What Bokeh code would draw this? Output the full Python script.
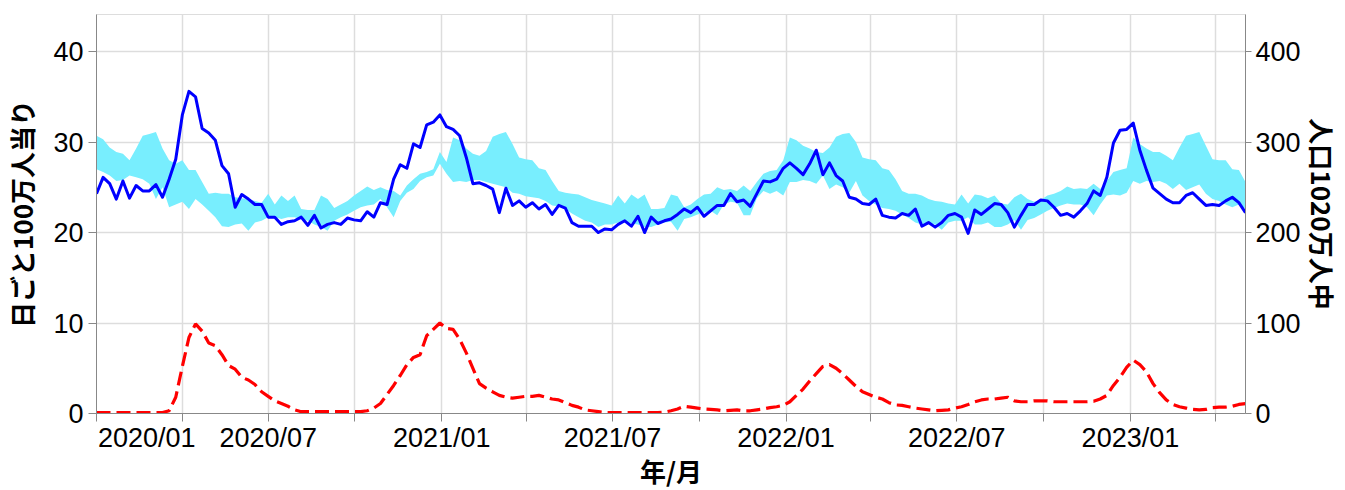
import pandas as pd
from bokeh.plotting import figure
from bokeh.models import LinearAxis, Range1d, FixedTicker, ColumnDataSource
from bokeh.embed import file_html
from bokeh.resources import INLINE

# ---------------- data (weekly, from 2020-01-01) ----------------
first_week = "2020-01-01"

observed = [
    24.3, 26.1, 25.4, 23.7, 25.7, 23.8, 25.2, 24.6, 24.6, 25.3,
    23.9, 25.9, 28.1, 33.0, 35.6, 35.0, 31.5, 31.0, 30.2, 27.4,
    26.5, 22.8, 24.2, 23.7, 23.1, 23.1, 21.7, 21.7, 20.9, 21.2,
    21.3, 21.7, 20.8, 21.9, 20.5, 20.9, 21.1, 20.9, 21.6, 21.4,
    21.3, 22.3, 21.7, 23.3, 23.1, 25.9, 27.5, 27.1, 29.8, 29.4,
    31.9, 32.2, 33.0, 31.7, 31.4, 30.7, 28.3, 25.4, 25.5, 25.2,
    24.8, 22.2, 24.9, 23.0, 23.5, 22.8, 23.3, 22.6, 23.1, 22.0,
    23.0, 22.7, 21.1, 20.7, 20.7, 20.7, 20.0, 20.4, 20.3, 20.9,
    21.3, 20.7, 21.8, 20.0, 21.7, 21.0, 21.3, 21.5, 22.0, 22.6,
    22.2, 22.8, 21.8, 22.4, 23.0, 23.0,
    24.3, 23.4, 23.6, 22.9, 24.3, 25.7, 25.6, 25.9, 27.1, 27.7,
    27.1, 26.4, 27.6, 29.1, 26.4, 27.7, 26.3, 25.7, 23.9, 23.7,
    23.2, 23.1, 23.7, 21.9, 21.7, 21.6, 22.1, 21.9, 22.6, 20.7,
    21.1, 20.6, 21.1, 21.9, 22.1, 21.7, 19.9, 22.5, 22.0, 22.6,
    23.2, 23.1, 22.2, 20.6, 21.9, 23.1, 23.1, 23.6, 23.5, 22.8,
    21.9, 22.1, 21.7, 22.4, 23.2, 24.6, 24.1, 26.1, 29.9, 31.3,
    31.4, 32.1, 29.1, 26.9, 24.9, 24.3, 23.7, 23.3, 23.3, 24.1,
    24.4, 23.7, 23.0, 23.1, 23.0, 23.5, 23.9, 23.3, 22.2,
]

expected_upper = [
    30.7, 30.3, 29.4, 28.9, 28.7, 28.0, 29.3, 30.7, 30.9, 31.1,
    29.3, 28.0, 27.6, 28.0, 26.9, 26.9, 25.6, 24.3, 24.4, 24.3,
    24.3, 23.9, 23.8, 23.7, 23.5, 23.3, 24.3, 23.1, 24.1, 23.5,
    24.1, 22.6, 22.5, 22.5, 24.1, 23.7, 22.7, 23.1, 23.5, 24.1,
    24.6, 25.1, 24.7, 25.0, 24.7, 24.6, 24.1, 25.2, 25.9, 26.5,
    26.7, 27.0, 28.9, 27.8, 30.5, 30.2, 29.3, 28.7, 28.5, 29.0,
    30.6, 30.9, 31.1, 29.8, 28.3, 28.1, 28.0, 27.1, 26.9, 25.7,
    24.6, 24.4, 24.3, 24.2, 23.9, 23.6, 23.4, 23.2, 23.0, 24.1,
    23.2, 24.2, 23.7, 24.2, 22.6, 22.6, 22.7, 24.2, 24.0, 22.8,
    23.1, 23.7, 24.2, 24.3, 25.0, 24.7,
    24.8, 24.6, 25.2, 24.6, 25.6, 26.5, 26.8, 26.9, 28.0, 30.5,
    30.2, 29.6, 29.3, 28.9, 28.8, 29.4, 30.6, 30.9, 31.0, 30.0,
    28.3, 28.1, 28.0, 27.1, 26.9, 25.9, 24.6, 24.3, 24.3, 24.1,
    23.7, 23.5, 23.4, 23.2, 23.1, 24.2, 23.2,
    24.2, 24.1, 23.8, 24.1, 23.2, 23.1, 23.9, 24.3, 23.7, 23.4,
    23.6, 24.1, 24.3, 24.6, 25.1, 24.8, 24.9, 24.8, 25.4, 24.8,
    25.7, 26.7, 26.9, 27.1, 30.5, 29.8, 29.3, 28.9, 28.9, 28.5,
    28.0, 29.4, 30.7, 30.9, 31.1, 29.6, 28.1, 28.0, 28.0, 27.0,
    26.9, 25.6,
]

expected_lower = [
    27.0, 26.7, 26.3, 25.7, 25.8, 26.3, 26.1, 25.9, 25.4, 23.7,
    25.0, 22.8, 23.1, 23.4, 22.6, 23.7, 23.1, 22.4, 21.7, 20.7,
    20.6, 20.9, 21.0, 20.2, 21.1, 21.3, 21.7, 21.7, 21.5, 21.7,
    21.7, 21.5, 21.3, 20.9, 20.6, 20.2, 21.3, 21.7, 22.0, 22.4,
    22.8, 23.0, 23.1, 23.7, 22.8, 21.7, 23.5, 24.4, 24.8, 25.7,
    26.1, 26.3, 27.6, 26.5, 25.6, 25.7, 25.6, 25.8, 25.8, 25.6,
    25.4, 25.2, 25.0, 24.4, 24.3, 24.0, 23.9, 23.8, 23.5, 23.0,
    22.9, 22.6, 22.1, 21.7, 21.3, 21.1, 20.6, 20.9, 20.9, 21.1,
    21.3, 21.0, 20.9, 20.6, 20.6, 20.9, 21.1, 21.2, 20.2, 21.5,
    21.7, 22.0, 22.2, 22.4, 21.9, 23.1,
    23.4, 23.3, 21.9, 21.9, 23.8, 24.6, 24.3, 24.6, 24.1, 25.6,
    25.6, 25.8, 25.7, 25.4, 26.3, 24.8, 25.3, 25.0, 24.4, 25.7,
    24.1, 23.5, 23.1, 22.7, 22.6, 22.4, 22.0, 21.6, 21.1, 20.9,
    21.0, 20.9, 20.3, 21.1, 21.3, 21.3, 21.7, 20.9,
    20.9, 21.1, 20.6, 20.6, 20.9, 21.4, 20.3, 21.4, 21.6, 22.0,
    22.4, 22.7, 23.0, 23.2, 23.1, 23.1, 22.8, 21.9, 23.1, 24.1,
    24.2, 24.1, 24.4, 25.7, 25.4, 25.7, 25.6, 25.7, 25.4, 24.8,
    25.4, 24.7, 25.0, 25.3, 24.3, 23.7, 23.5, 23.1, 22.8, 23.1,
    22.6,
]

covid_deaths = [
    0.1, 0.1, 0.1, 0.1, 0.1, 0.1, 0.1, 0.1, 0.1, 0.1,
    0.1, 0.3, 1.8, 5.2, 8.4, 9.9, 9.1, 7.8, 7.5, 6.5,
    5.3, 4.9, 4.0, 3.7, 3.2, 2.4, 1.9, 1.4, 1.1, 0.8,
    0.4, 0.2, 0.2, 0.2, 0.2, 0.2, 0.2, 0.2, 0.2, 0.2,
    0.2, 0.3, 0.6, 1.1, 2.1, 3.1, 4.2, 5.4, 6.2, 6.5,
    8.6, 9.3, 10.0, 9.4, 9.3, 8.2, 6.7, 5.0, 3.3, 2.8,
    2.4, 2.0, 1.8, 1.7, 1.8, 1.9, 1.9, 2.0, 1.8, 1.6,
    1.5, 1.2, 0.9, 0.7, 0.4, 0.3, 0.2, 0.1, 0.1, 0.1,
    0.1, 0.1, 0.1, 0.1, 0.1, 0.1, 0.15, 0.3, 0.5, 0.8,
    0.7, 0.6, 0.5, 0.45, 0.4, 0.3, 0.35, 0.4, 0.3, 0.3,
    0.4, 0.5, 0.65, 0.75, 0.9, 1.3, 2.0, 2.7, 3.6, 4.4,
    5.2, 5.4, 5.0, 4.4, 3.7, 3.0, 2.4, 2.1, 1.8, 1.6,
    1.2, 0.95, 0.9, 0.75, 0.6, 0.5, 0.4, 0.3, 0.35, 0.4,
    0.6, 0.75, 1.0, 1.3, 1.5, 1.6, 1.6, 1.7, 1.8, 1.4,
    1.3, 1.3, 1.4, 1.4, 1.4, 1.3, 1.3, 1.3, 1.3, 1.3,
    1.3, 1.35, 1.6, 2.0, 3.1, 4.0, 5.1, 5.9, 5.4, 4.6,
    3.3, 2.3, 1.5, 1.0, 0.75, 0.6, 0.45, 0.4, 0.45, 0.65,
    0.7, 0.7, 0.8, 1.0, 1.1,
]

x_tick_dates = ["2020-01-01", "2020-04-01", "2020-07-01", "2020-10-01",
                "2021-01-01", "2021-04-01", "2021-07-01", "2021-10-01",
                "2022-01-01", "2022-04-01", "2022-07-01", "2022-10-01",
                "2023-01-01", "2023-04-01"]
x_tick_labels = ["2020/01", "", "2020/07", "", "2021/01", "", "2021/07", "",
                 "2022/01", "", "2022/07", "", "2023/01", ""]
left_ticks = [0, 10, 20, 30, 40]
right_ticks = [0, 100, 200, 300, 400]

x_title = "年/月"
left_title = "日ごと100万人当り"
right_title = "人口1020万人中"

# ---------------- build ----------------
dates = pd.date_range(first_week, periods=len(observed), freq="7D")
src = ColumnDataSource(data=dict(date=dates, observed=observed, upper=expected_upper,
                                 lower=expected_lower, covid=covid_deaths))

p = figure(x_axis_type="datetime", frame_width=1149, frame_height=399,
           x_range=Range1d(dates[0], dates[-1]), y_range=Range1d(0, 44.1),
           output_backend="svg", toolbar_location=None,
           min_border_left=93, min_border_right=87, min_border_top=14, min_border_bottom=30)
p.background_fill_color = "white"
p.border_fill_color = "white"
p.outline_line_color = "#dddddd"

p.extra_y_ranges = {"right": Range1d(0, 441)}
right_axis = LinearAxis(y_range_name="right", ticker=FixedTicker(ticks=right_ticks))
p.add_layout(right_axis, "right")

tick_ms = [pd.Timestamp(d).value // 10**6 for d in x_tick_dates]
p.xaxis.ticker = FixedTicker(ticks=tick_ms)
p.yaxis[0].ticker = FixedTicker(ticks=left_ticks)
overrides = {float(t): lab for t, lab in zip(tick_ms, x_tick_labels)}
# the first label sits flush with the left edge of the plot, as in the reference
overrides[float(tick_ms[0])] = "\u00a0" * 13 + x_tick_labels[0]
p.xaxis.major_label_overrides = overrides

p.xaxis.axis_label = x_title
p.yaxis[0].axis_label = left_title
right_axis.axis_label = right_title

for ax in [p.xaxis[0], p.yaxis[0], right_axis]:
    ax.axis_line_color = "#888888"
    ax.axis_line_width = 1
    ax.major_tick_line_color = "#888888"
    ax.minor_tick_line_color = None
    ax.major_tick_out = 8
    ax.major_tick_in = 0
    ax.major_label_standoff = 5
    ax.major_label_text_font = "Liberation Sans"
    ax.major_label_text_font_size = "27px"
    ax.major_label_text_color = "black"
    ax.axis_label_text_font = "Noto Sans CJK JP"
    ax.axis_label_text_font_style = "bold"
    ax.axis_label_text_font_size = "26px"
    ax.axis_label_text_color = "black"
p.xaxis.major_label_standoff = 1
p.xaxis.axis_label_standoff = -4
p.yaxis[0].axis_label_standoff = 10
right_axis.major_label_standoff = 4
right_axis.major_tick_out = 6
right_axis.axis_label_standoff = 0

p.xgrid.grid_line_color = "#dddddd"
p.ygrid.grid_line_color = "#dddddd"
p.xgrid.grid_line_width = 1.5
p.ygrid.grid_line_width = 1.5

p.varea(x="date", y1="lower", y2="upper", source=src, fill_color="#78EEFE", fill_alpha=1)
p.line(x="date", y="observed", source=src, line_color="#0000FF", line_width=3,
       line_join="round")
p.line(x="date", y="covid", source=src, line_color="#FF0000", line_width=3.2,
       line_dash="14 6")

open("out.html", "w").write(file_html(p, INLINE))
